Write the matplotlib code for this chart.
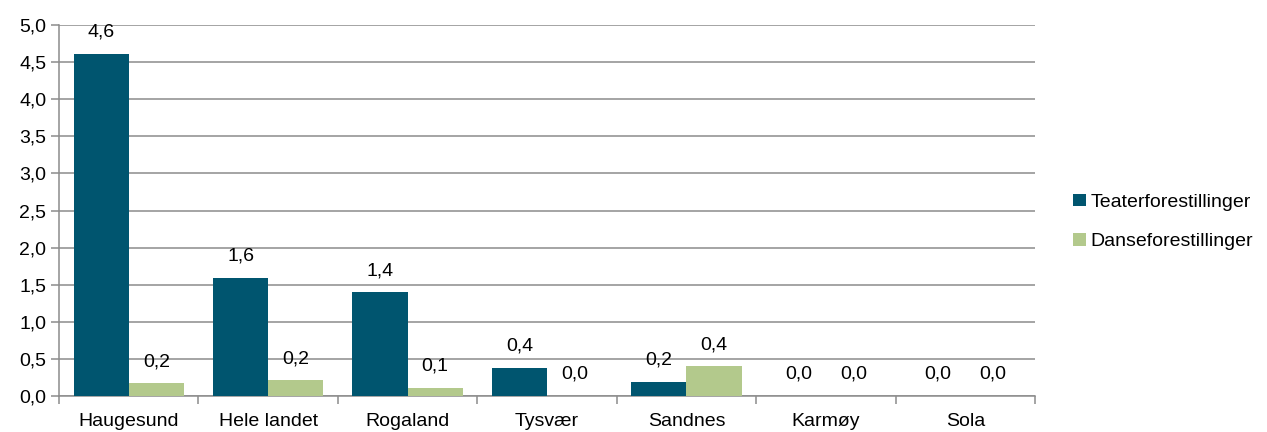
import matplotlib
matplotlib.use("Agg")
import matplotlib.pyplot as plt
import numpy as np

plt.rcParams['font.family'] = ['Liberation Sans', 'DejaVu Sans']

categories = ["Haugesund", "Hele landet", "Rogaland", "Tysvær", "Sandnes", "Karmøy", "Sola"]
teater = [4.61, 1.59, 1.40, 0.38, 0.19, 0.0, 0.0]
danse = [0.17, 0.21, 0.11, 0.0, 0.40, 0.0, 0.0]
series_names = ["Teaterforestillinger", "Danseforestillinger"]
yticks = [0.0, 0.5, 1.0, 1.5, 2.0, 2.5, 3.0, 3.5, 4.0, 4.5, 5.0]

c_teal = "#00556F"
c_green = "#B3C98C"
grid_c = "#8C8C8C"
FS = 14

fig = plt.figure(figsize=(12.67, 4.32), dpi=100)
ax = fig.add_axes([59/1267, 1-396/432, (1035-59)/1267, (396-25)/432])

x = np.arange(len(categories))
w = 0.395
b1 = ax.bar(x - w/2, teater, w, color=c_teal, label=series_names[0], zorder=3)
b2 = ax.bar(x + w/2, danse, w, color=c_green, label=series_names[1], zorder=3)

def fmt(v):
    return f"{v:.1f}".replace(".", ",")

for bars, vals in ((b1, teater), (b2, danse)):
    for r, v in zip(bars, vals):
        ax.annotate(fmt(v), (r.get_x() + r.get_width()/2, v), xytext=(0, 15.5),
                    textcoords="offset points", ha="center", va="center", fontsize=FS)

ax.set_xlim(-0.5, len(categories) - 0.5)
ax.set_ylim(0, 5.0)
ax.set_yticks(yticks)
ax.set_yticklabels([fmt(t) for t in yticks], fontsize=FS)
ax.yaxis.grid(True, color=grid_c, linewidth=1.1, zorder=0)
ax.set_axisbelow(True)
ax.tick_params(axis='y', length=6, color=grid_c, width=1.1, pad=3)

ax.set_xticks(x)
ax.set_xticklabels(categories, fontsize=FS)
ax.set_xticks(np.arange(-0.5, len(categories)), minor=True)
ax.tick_params(axis='x', which='major', length=0, pad=12)
ax.tick_params(axis='x', which='minor', length=6, color=grid_c, width=1.1)

for s in ("top", "right"):
    ax.spines[s].set_visible(False)
for s in ("left", "bottom"):
    ax.spines[s].set_color(grid_c)
    ax.spines[s].set_linewidth(1.1)

fig.legend(handles=[b1, b2], labels=series_names, loc="center left",
           bbox_to_anchor=(1073/1267, 1-222/432), frameon=False, fontsize=FS,
           handlelength=0.65, handleheight=0.65, handletextpad=0.25, labelspacing=1.15,
           borderpad=0, borderaxespad=0)

fig.savefig("out.png", dpi=100)
